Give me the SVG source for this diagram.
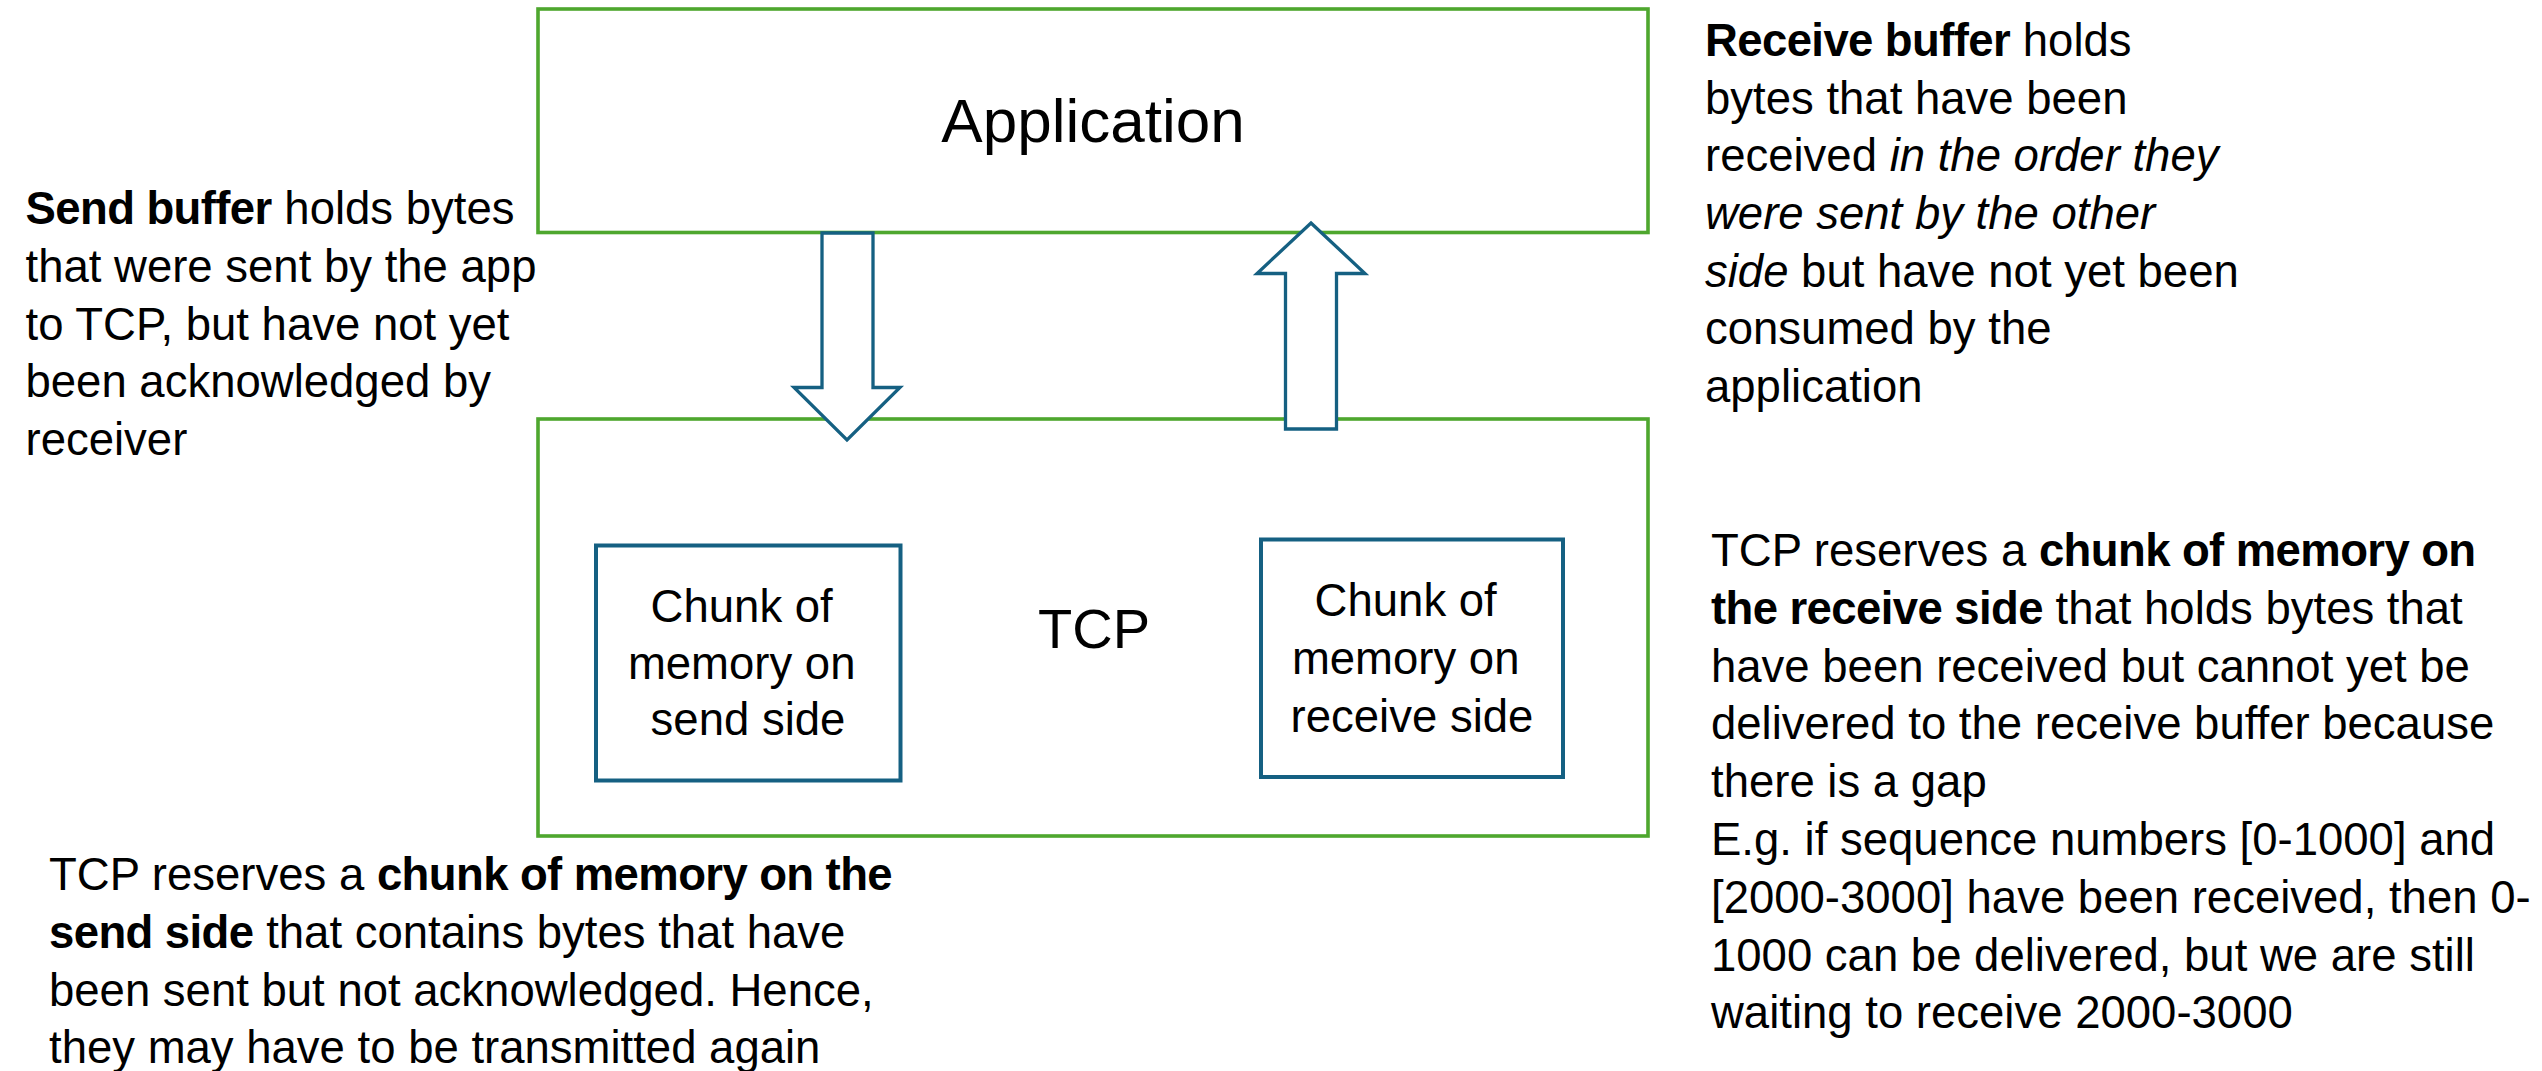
<svg xmlns="http://www.w3.org/2000/svg" width="2542" height="1071" viewBox="0 0 2542 1071">
  <style>
    text { font-family: "Liberation Sans", Arial, sans-serif; fill: #000; }
    .body { font-size: 45.5px; }
    .b { font-weight: bold; letter-spacing: -0.6px; }
    .i { font-style: italic; }
    .layer { fill: #fff; stroke: #4ea72e; stroke-width: 3.6; }
    .mem { fill: #fff; stroke: #156082; stroke-width: 4; }
    .arrow { fill: #fff; stroke: #156082; stroke-width: 3.3; stroke-linejoin: miter; }
    .big { font-size: 62px; text-anchor: middle; }
    .tcp { font-size: 56px; text-anchor: middle; }
    .mid { text-anchor: middle; }
  </style>
  <rect width="2542" height="1071" fill="#fff"/>

  <g id="application">
    <rect class="layer" x="538" y="9" width="1110" height="223.5"/>
    <text class="big" x="1093" y="142">Application</text>
  </g>

  <g id="tcp">
    <rect class="layer" x="538" y="419" width="1110" height="417"/>
    <text class="tcp" x="1094" y="648">TCP</text>
  </g>

  <g id="send-chunk">
    <rect class="mem" x="596" y="545.5" width="304.5" height="235"/>
    <text class="body mid">
      <tspan x="748" y="622">Chunk of</tspan>
      <tspan x="748" y="678.5">memory on</tspan>
      <tspan x="748" y="735">send side</tspan>
    </text>
  </g>

  <g id="receive-chunk">
    <rect class="mem" x="1261" y="539.5" width="302" height="237.5"/>
    <text class="body mid">
      <tspan x="1412" y="616">Chunk of</tspan>
      <tspan x="1412" y="674">memory on</tspan>
      <tspan x="1412" y="731.5">receive side</tspan>
    </text>
  </g>

  <g id="connectors">
    <polygon class="arrow" points="822,233 873,233 873,387.5 900,387.5 847,440 794,387.5 822,387.5"/>
    <polygon class="arrow" points="1311,223 1365,273.5 1336.5,273.5 1336.5,429 1285.5,429 1285.5,273.5 1257,273.5"/>
  </g>

  <g id="send-buffer-note">
    <text class="body">
      <tspan x="25.5" y="224"><tspan class="b">Send buffer</tspan> holds bytes</tspan>
      <tspan x="25.5" y="281.75">that were sent by the app</tspan>
      <tspan x="25.5" y="339.5">to TCP, but have not yet</tspan>
      <tspan x="25.5" y="397.25">been acknowledged by</tspan>
      <tspan x="25.5" y="455">receiver</tspan>
    </text>
  </g>

  <g id="receive-buffer-note">
    <text class="body">
      <tspan x="1705" y="56"><tspan class="b">Receive buffer</tspan> holds</tspan>
      <tspan x="1705" y="113.7">bytes that have been</tspan>
      <tspan x="1705" y="171.3">received <tspan class="i">in the order they</tspan></tspan>
      <tspan x="1705" y="229" class="i">were sent by the other</tspan>
      <tspan x="1705" y="286.7"><tspan class="i">side</tspan> but have not yet been</tspan>
      <tspan x="1705" y="344.3">consumed by the</tspan>
      <tspan x="1705" y="402">application</tspan>
    </text>
  </g>

  <g id="send-chunk-note">
    <text class="body">
      <tspan x="49" y="890">TCP reserves a <tspan class="b">chunk of memory on the</tspan></tspan>
      <tspan x="49" y="947.5"><tspan class="b">send side</tspan> that contains bytes that have</tspan>
      <tspan x="49" y="1005.5">been sent but not acknowledged. Hence,</tspan>
      <tspan x="49" y="1063">they may have to be transmitted again</tspan>
    </text>
  </g>

  <g id="receive-chunk-note">
    <text class="body">
      <tspan x="1711" y="566">TCP reserves a <tspan class="b">chunk of memory on</tspan></tspan>
      <tspan x="1711" y="623.8"><tspan class="b">the receive side</tspan> that holds bytes that</tspan>
      <tspan x="1711" y="681.6">have been received but cannot yet be</tspan>
      <tspan x="1711" y="739.4">delivered to the receive buffer because</tspan>
      <tspan x="1711" y="797.2">there is a gap</tspan>
      <tspan x="1711" y="855">E.g. if sequence numbers [0-1000] and</tspan>
      <tspan x="1711" y="912.8">[2000-3000] have been received, then 0-</tspan>
      <tspan x="1711" y="970.6">1000 can be delivered, but we are still</tspan>
      <tspan x="1711" y="1028.4">waiting to receive 2000-3000</tspan>
    </text>
  </g>
</svg>
